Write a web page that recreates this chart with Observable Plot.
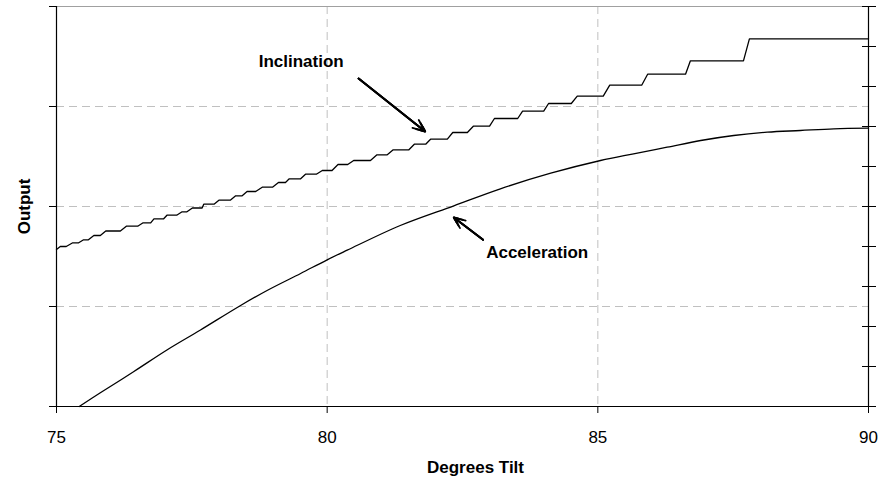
<!DOCTYPE html>
<html>
<head>
<meta charset="utf-8">
<script src="https://cdn.jsdelivr.net/npm/d3@7"></script>
<script src="https://cdn.jsdelivr.net/npm/@observablehq/plot@0.6"></script>
<style>
  html, body { margin: 0; padding: 0; background: #fff; }
  #chart { width: 889px; height: 483px; }
</style>
</head>
<body>
<div id="chart"></div>
<script>
// ---- data ----
const xTicks = [75, 80, 85, 90];
const xGrid = [80, 85];
const yGrid = [1, 2, 3];
const yTicksLeft = [0, 1, 2, 3, 4];
const yTicksRight = [0, 0.4, 0.8, 1.2, 1.6, 2, 2.4, 2.8, 3.2, 3.6, 4];

// Inclination (stepped) : degrees tilt / output
const incX = [75.00, 75.07, 75.18, 75.30, 75.41, 75.50, 75.59, 75.69, 75.81, 75.91, 76.18,
  76.29, 76.50, 76.60, 76.74, 76.80, 76.98, 77.04, 77.22, 77.32, 77.41, 77.51, 77.69,
  77.72, 77.91, 78.00, 78.21, 78.31, 78.43, 78.52, 78.68, 78.80, 78.99, 79.10, 79.23,
  79.30, 79.51, 79.60, 79.80, 79.91, 80.09, 80.20, 80.38, 80.49, 80.80, 80.92, 81.11,
  81.22, 81.51, 81.61, 81.82, 81.91, 82.22, 82.32, 82.59, 82.70, 83.00, 83.09, 83.52,
  83.61, 84.00, 84.09, 84.51, 84.62, 85.10, 85.22, 85.81, 85.92, 86.62, 86.71, 87.69,
  87.80, 90.00];
const incY = [1.570, 1.600, 1.600, 1.637, 1.637, 1.667, 1.667, 1.710, 1.710, 1.755, 1.755,
  1.803, 1.803, 1.837, 1.837, 1.877, 1.877, 1.913, 1.913, 1.947, 1.947, 1.985, 1.985,
  2.023, 2.023, 2.063, 2.063, 2.107, 2.107, 2.150, 2.150, 2.193, 2.193, 2.240, 2.240,
  2.277, 2.277, 2.323, 2.323, 2.360, 2.360, 2.420, 2.420, 2.460, 2.460, 2.517, 2.517,
  2.567, 2.567, 2.623, 2.623, 2.673, 2.673, 2.740, 2.740, 2.803, 2.803, 2.880, 2.880,
  2.953, 2.953, 3.030, 3.030, 3.103, 3.103, 3.213, 3.213, 3.323, 3.323, 3.457, 3.457,
  3.677, 3.677];

// Acceleration (smooth)
const accX = [75.42, 75.81, 76.43, 77.04, 77.66, 78.37, 78.89, 79.51, 80.00, 80.37, 81.35,
  82.34, 83.20, 84.13, 85.05, 85.66, 86.28, 86.90, 87.51, 88.13, 88.74, 89.36, 90.00];
const accY = [0.000, 0.137, 0.350, 0.565, 0.765, 1.000, 1.160, 1.330, 1.467, 1.563, 1.810,
  2.007, 2.177, 2.333, 2.460, 2.527, 2.593, 2.660, 2.710, 2.743, 2.760, 2.777, 2.783];

// annotations
const labelText = ["Inclination", "Acceleration"];
const labelX = [79.52, 83.88];
const labelY = [3.445, 1.54];
const arrowX1 = [80.58, 82.88];
const arrowY1 = [3.28, 1.667];
const arrowX2 = [81.81, 82.34];
const arrowY2 = [2.75, 1.89];
const xTitle = "Degrees Tilt";
const yTitle = "Output";

// ---- build tables ----
const inc = incX.map((x, i) => ({x, y: incY[i]}));
const acc = accX.map((x, i) => ({x, y: accY[i]}));
const labels = labelText.map((t, i) => ({t, x: labelX[i], y: labelY[i]}));
const arrows = arrowX1.map((x1, i) => ({x1, y1: arrowY1[i], x2: arrowX2[i], y2: arrowY2[i]}));

const FONT = "'Liberation Sans', Arial, sans-serif";
const gridStyle = {stroke: "#c0c0c0", strokeDasharray: "8,5", strokeWidth: 1};

const chart = Plot.plot({
  width: 889,
  height: 483,
  marginLeft: 56,
  marginRight: 21,
  marginTop: 6,
  marginBottom: 77,
  style: {fontFamily: FONT, fontSize: "17px", background: "#fff", color: "#000"},
  x: {domain: [75, 90]},
  y: {domain: [0, 4]},
  marks: [
    Plot.ruleY(yGrid, gridStyle),
    Plot.ruleX(xGrid, gridStyle),
    Plot.ruleY([4], {stroke: "#a0a0a0", strokeWidth: 1}),
    Plot.line(inc, {x: "x", y: "y", stroke: "#000", strokeWidth: 1.3, curve: "linear"}),
    Plot.line(acc, {x: "x", y: "y", stroke: "#000", strokeWidth: 1.3, curve: "catmull-rom"}),
    Plot.ruleX([75], {stroke: "#000", strokeWidth: 1.2}),
    Plot.ruleX([90], {stroke: "#000", strokeWidth: 1.2}),
    Plot.ruleY([0], {stroke: "#000", strokeWidth: 1.2}),
    Plot.ruleY(yTicksRight, {y: d => d, x1: 90, x2: 90, insetLeft: -6, insetRight: -8, stroke: "#000", strokeWidth: 1}),
    Plot.axisY(yTicksLeft, {anchor: "left", tickSize: 7, tickFormat: () => "", label: null, stroke: "#000"}),
    Plot.axisX(xTicks, {anchor: "bottom", tickSize: 7, tickPadding: 17, label: null, fontSize: 17, stroke: "#000"}),
    Plot.text([xTitle], {x: 82.5, y: 0, dx: 13, dy: 61, fontWeight: "bold", fontSize: 17, fill: "#000"}),
    Plot.text([yTitle], {x: 75, y: 2, dx: -32, rotate: -90, fontWeight: "bold", fontSize: 17, fill: "#000"}),
    Plot.text(labels, {x: "x", y: "y", text: "t", fontWeight: "bold", fontSize: 17, fill: "#000"}),
    Plot.arrow(arrows, {x1: "x1", y1: "y1", x2: "x2", y2: "y2", stroke: "#000", strokeWidth: 1.8, headLength: 11, headAngle: 45}),
    Plot.arrow(arrows, {x1: "x1", y1: "y1", x2: "x2", y2: "y2", stroke: "#000", strokeWidth: 2, headLength: 7, headAngle: 45}),
    Plot.arrow(arrows, {x1: "x1", y1: "y1", x2: "x2", y2: "y2", stroke: "#000", strokeWidth: 2, headLength: 4, headAngle: 45})
  ]
});
document.getElementById("chart").appendChild(chart);
</script>
</body>
</html>
